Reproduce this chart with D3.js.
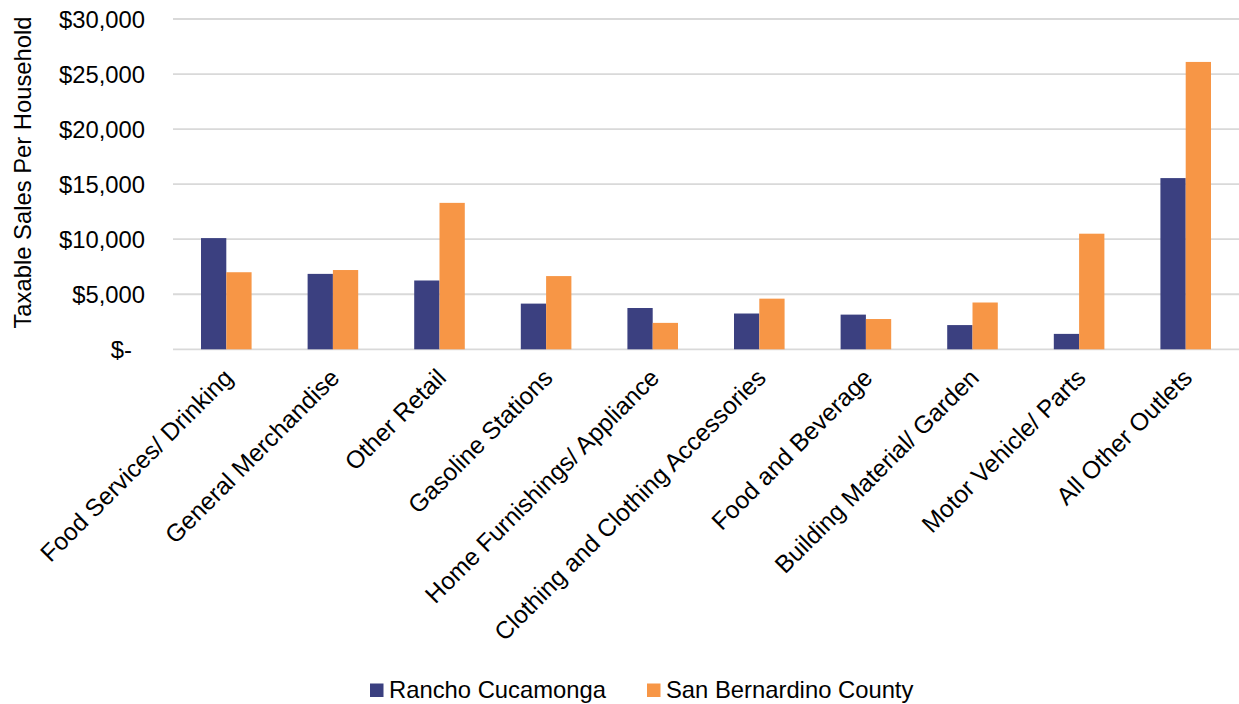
<!DOCTYPE html>
<html>
<head>
<meta charset="utf-8">
<script src="https://cdn.jsdelivr.net/npm/d3@7"></script>
<style>
  body { margin: 0; background: #fff; }
  text { font-family: "Liberation Sans", Arial, sans-serif; fill: #000; }
</style>
</head>
<body>
<svg id="chart"></svg>
<script>
// data
const categories = [
    "Food Services/ Drinking", "General Merchandise", "Other Retail", "Gasoline Stations",
    "Home Furnishings/ Appliance", "Clothing and Clothing Accessories", "Food and Beverage",
    "Building Material/ Garden", "Motor Vehicle/ Parts", "All Other Outlets"
];
const seriesNames = ["Rancho Cucamonga", "San Bernardino County"];
const ranchoValues = [10100, 6850, 6250, 4150, 3750, 3250, 3150, 2200, 1400, 15550];
const countyValues = [7000, 7200, 13300, 6650, 2400, 4600, 2750, 4250, 10500, 26100];
const yTicks = [0, 5000, 10000, 15000, 20000, 25000, 30000];
const colours = ["#3B4080", "#F79646"];

const width = 1239, height = 704;
const margin = { top: 19, right: 0, bottom: 354.7, left: 173 };
const fontSize = 23.8;
const labelSize = 24.5;

const svg = d3.select("#chart").attr("width", width).attr("height", height);

const x0 = d3.scaleBand()
    .domain(categories)
    .range([margin.left, width - margin.right])
    .paddingInner(0.5255)
    .paddingOuter(0.5255 / 2);

const x1 = d3.scaleBand()
    .domain(seriesNames)
    .range([0, x0.bandwidth()]);

const y = d3.scaleLinear()
    .domain([0, 30000])
    .range([height - margin.bottom, margin.top]);

// gridlines
svg.append("g")
    .selectAll("line")
    .data(yTicks)
    .join("line")
    .attr("x1", margin.left)
    .attr("x2", width - margin.right)
    .attr("y1", d => y(d))
    .attr("y2", d => y(d))
    .attr("stroke", "#d9d9d9")
    .attr("stroke-width", 1.8);

// y tick labels (accounting style, zero shown as "$-")
const fmt = d3.format(",");
svg.append("g")
    .selectAll("text")
    .data(yTicks)
    .join("text")
    .attr("x", d => d === 0 ? margin.left - 41 : margin.left - 28)
    .attr("y", d => y(d))
    .attr("dy", "0.36em")
    .attr("text-anchor", "end")
    .style("font-size", fontSize + "px")
    .text(d => d === 0 ? "$-" : "$" + fmt(d));

// y axis title
svg.append("text")
    .attr("transform", "translate(31,172.5) rotate(-90)")
    .attr("text-anchor", "middle")
    .style("font-size", fontSize + "px")
    .text("Taxable Sales Per Household");

// bars
const rows = categories.map((c, i) => ({ cat: c, vals: [ranchoValues[i], countyValues[i]] }));

const groups = svg.append("g")
    .selectAll("g")
    .data(rows)
    .join("g")
    .attr("transform", d => `translate(${x0(d.cat)},0)`);

groups.selectAll("rect")
    .data(d => d.vals.map((v, j) => ({ key: seriesNames[j], value: v, j: j })))
    .join("rect")
    .attr("x", d => x1(d.key))
    .attr("width", x1.bandwidth())
    .attr("y", d => y(d.value))
    .attr("height", d => y(0) - y(d.value))
    .attr("fill", d => colours[d.j]);

// category labels, rotated -45
svg.append("g")
    .selectAll("text")
    .data(categories)
    .join("text")
    .attr("transform", d => `translate(${x0(d) + x0.bandwidth() / 2 + 8},${y(0) + 30}) rotate(-45)`)
    .attr("text-anchor", "end")
    .style("font-size", labelSize + "px")
    .text(d => d);

// legend
const legendX = [370, 647];
const legend = svg.append("g")
    .selectAll("g")
    .data(seriesNames)
    .join("g")
    .attr("transform", (d, i) => `translate(${legendX[i]},0)`);

legend.append("rect")
    .attr("x", 0)
    .attr("y", 683.5)
    .attr("width", 13.5)
    .attr("height", 13.5)
    .attr("fill", (d, i) => colours[i]);

legend.append("text")
    .attr("x", 19)
    .attr("y", 698.3)
    .style("font-size", fontSize + "px")
    .text(d => d);
</script>
</body>
</html>
